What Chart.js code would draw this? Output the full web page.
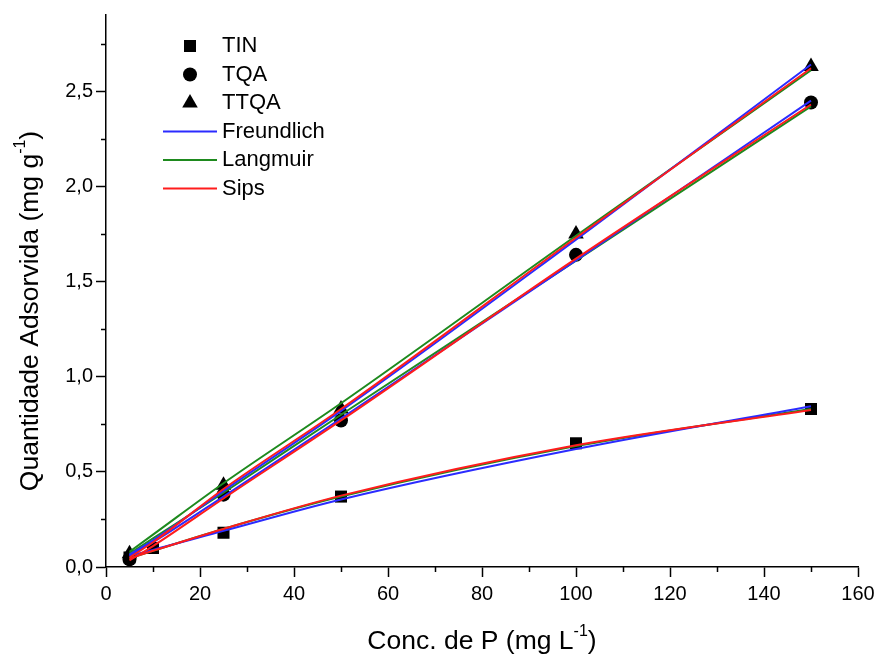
<!DOCTYPE html>
<html>
<head>
<meta charset="utf-8">
<script src="https://cdn.jsdelivr.net/npm/chart.js@4/dist/chart.umd.min.js"></script>
<style>
  html, body { margin: 0; padding: 0; background: #fff; }
  canvas { display: block; }
</style>
</head>
<body>
<canvas id="isoChart" width="880" height="657"></canvas>
<script>
// Experimental points (concentration in mg/L, adsorbed amount in mg/g)
const concTIN = [5, 10, 25, 50, 100, 150];
const qTIN = [0.05, 0.10, 0.18, 0.37, 0.65, 0.83];
const concTQA = [5, 25, 50, 100, 150];
const qTQA = [0.04, 0.38, 0.77, 1.64, 2.44];
const concTTQA = [5, 25, 50, 100, 150];
const qTTQA = [0.07, 0.43, 0.83, 1.75, 2.63];

// Model curves evaluated at these concentrations
const concModel = [5, 10, 25, 50, 100, 150];
const freundTIN = [0.06, 0.09, 0.19, 0.355, 0.62, 0.845];
const langTIN = [0.045, 0.085, 0.20, 0.37, 0.635, 0.83];
const sipsTIN = [0.045, 0.085, 0.20, 0.375, 0.64, 0.825];
const freundTQA = [0.06, 0.13, 0.37, 0.78, 1.61, 2.45];
const langTQA = [0.07, 0.15, 0.39, 0.80, 1.61, 2.42];
const sipsTQA = [0.035, 0.11, 0.36, 0.77, 1.62, 2.43];
const freundTTQA = [0.065, 0.14, 0.40, 0.82, 1.72, 2.64];
const langTTQA = [0.08, 0.17, 0.44, 0.86, 1.74, 2.61];
const sipsTTQA = [0.05, 0.13, 0.41, 0.83, 1.73, 2.62];

// Axis ticks
const xTicks = [0, 20, 40, 60, 80, 100, 120, 140, 160];
const xMinorTicks = [10, 30, 50, 70, 90, 110, 130, 150];
const yTicks = [0, 0.5, 1.0, 1.5, 2.0, 2.5];
const yMinorTicks = [0.25, 0.75, 1.25, 1.75, 2.25, 2.75];

const FONT = "'Liberation Sans', Arial, Helvetica, sans-serif";
const BLUE = "#2b2bff";
const GREEN = "#1e8a1e";
const RED = "#ff1c1c";

const pts = (xs, ys) => xs.map((x, i) => ({ x, y: ys[i] }));

function markerSet(label, xs, ys, style, radius) {
  return {
    type: "scatter", label, data: pts(xs, ys),
    pointStyle: style, pointRadius: radius, pointHoverRadius: radius,
    backgroundColor: "#000", borderColor: "#000", borderWidth: 0,
    order: 10, showLine: false
  };
}

function modelLine(label, ys, color, order) {
  return {
    type: "line", label, data: pts(concModel, ys),
    borderColor: color, backgroundColor: color, borderWidth: 2,
    pointRadius: 0, cubicInterpolationMode: "monotone", fill: false, order
  };
}

const datasets = [
  markerSet("TIN", concTIN, qTIN, "rect", 8.5),
  markerSet("TQA", concTQA, qTQA, "circle", 7),
  markerSet("TTQA", concTTQA, qTTQA, "triangle", 9),
  modelLine("Langmuir", langTIN, GREEN, 3),
  modelLine("Langmuir", langTQA, GREEN, 3),
  modelLine("Langmuir", langTTQA, GREEN, 3),
  modelLine("Freundlich", freundTIN, BLUE, 2),
  modelLine("Freundlich", freundTQA, BLUE, 2),
  modelLine("Freundlich", freundTTQA, BLUE, 2),
  modelLine("Sips", sipsTIN, RED, 1),
  modelLine("Sips", sipsTQA, RED, 1),
  modelLine("Sips", sipsTTQA, RED, 1)
];

// Legend entries: markers first, then one line per model
const legendMarkers = [
  { label: "TIN", style: "rect", radius: 8.5 },
  { label: "TQA", style: "circle", radius: 7 },
  { label: "TTQA", style: "triangle", radius: 9 }
];
const legendLines = [
  { label: "Freundlich", color: BLUE },
  { label: "Langmuir", color: GREEN },
  { label: "Sips", color: RED }
];

// minor tick marks, legend block and axis titles with superscripts
const extras = {
  id: "extras",
  afterDraw(chart) {
    const ctx = chart.ctx;
    const xs = chart.scales.x, ys = chart.scales.y;
    const area = chart.chartArea;
    ctx.save();
    ctx.strokeStyle = "#000";
    ctx.lineWidth = 1.5;
    ctx.beginPath();
    xMinorTicks.forEach(v => {
      const p = Math.round(xs.getPixelForValue(v)) + 0.5;
      ctx.moveTo(p, area.bottom);
      ctx.lineTo(p, area.bottom + 5);
    });
    yMinorTicks.forEach(v => {
      const p = Math.round(ys.getPixelForValue(v)) + 0.5;
      ctx.moveTo(area.left - 5, p);
      ctx.lineTo(area.left, p);
    });
    ctx.stroke();

    // legend
    const lx = 190, ly = 46, step = 28.5, tx = 222;
    ctx.font = "22px " + FONT;
    ctx.textBaseline = "middle";
    ctx.textAlign = "left";
    legendMarkers.forEach((m, i) => {
      const y = ly + i * step;
      ctx.fillStyle = "#000";
      ctx.strokeStyle = "#000";
      Chart.helpers.drawPoint(ctx, { pointStyle: m.style, radius: m.radius, borderWidth: 0 }, lx, y);
      ctx.fillText(m.label, tx, y);
    });
    legendLines.forEach((l, i) => {
      const y = ly + (i + 3) * step;
      ctx.strokeStyle = l.color;
      ctx.lineWidth = 2;
      ctx.beginPath();
      ctx.moveTo(163, y);
      ctx.lineTo(217, y);
      ctx.stroke();
      ctx.fillStyle = "#000";
      ctx.fillText(l.label, tx, y);
    });

    // axis titles
    drawTitle(ctx, "Conc. de P (mg L", "-1", ")", 482, 640, 0);
    drawTitle(ctx, "Quantidade Adsorvida (mg g", "-1", ")", 29, 311, -Math.PI / 2);
    ctx.restore();
  }
};

function drawTitle(ctx, main, sup, tail, cx, cy, rot) {
  const big = "26.5px " + FONT, small = "16px " + FONT;
  ctx.save();
  ctx.translate(cx, cy);
  ctx.rotate(rot);
  ctx.font = big;
  const w1 = ctx.measureText(main).width;
  const w3 = ctx.measureText(tail).width;
  ctx.font = small;
  const w2 = ctx.measureText(sup).width;
  let x = -(w1 + w2 + w3) / 2;
  ctx.fillStyle = "#000";
  ctx.textBaseline = "alphabetic";
  ctx.textAlign = "left";
  ctx.font = big;
  ctx.fillText(main, x, 9);
  x += w1;
  ctx.font = small;
  ctx.fillText(sup, x, -4);
  x += w2;
  ctx.font = big;
  ctx.fillText(tail, x, 9);
  ctx.restore();
}

new Chart(document.getElementById("isoChart"), {
  data: { datasets },
  options: {
    responsive: false,
    animation: false,
    devicePixelRatio: 1,
    layout: { padding: { top: 5, right: 22, left: 0, bottom: 0 } },
    plugins: { legend: { display: false }, tooltip: { enabled: false } },
    scales: {
      x: {
        type: "linear", min: 0, max: 160,
        afterFit: s => { s.height = 90; },
        afterBuildTicks: s => { s.ticks = xTicks.map(v => ({ value: v })); },
        grid: { drawOnChartArea: false, drawTicks: true, tickLength: 10, tickWidth: 1.5, tickColor: "#000" },
        border: { display: true, color: "#000", width: 1.5 },
        ticks: { color: "#000", padding: 5, maxRotation: 0, font: { family: FONT, size: 20 } }
      },
      y: {
        type: "linear", min: 0, max: 2.9,
        afterFit: s => { s.width = 106; },
        afterBuildTicks: s => { s.ticks = yTicks.map(v => ({ value: v })); },
        grid: { drawOnChartArea: false, drawTicks: true, tickLength: 10, tickWidth: 1.5, tickColor: "#000" },
        border: { display: true, color: "#000", width: 1.5 },
        ticks: {
          color: "#000", padding: 3, font: { family: FONT, size: 20 },
          callback: v => v.toFixed(1).replace(".", ",")
        }
      }
    }
  },
  plugins: [extras]
});
</script>
</body>
</html>
